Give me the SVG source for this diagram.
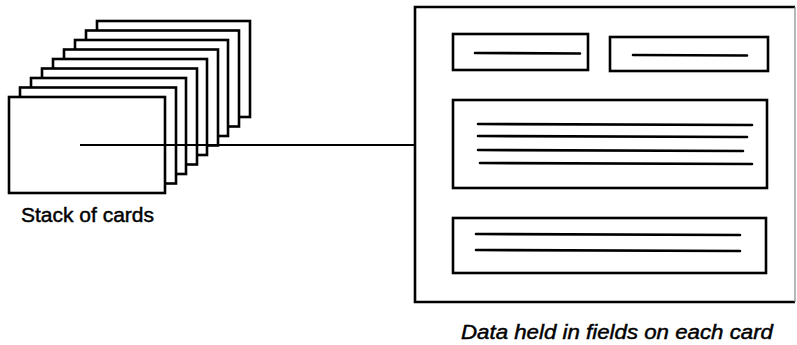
<svg xmlns="http://www.w3.org/2000/svg" width="797" height="345" viewBox="0 0 797 345">
<style>
  .card { fill: #fff; stroke: #000; stroke-width: 2.6; }
  .box { fill: none; stroke: #000; stroke-width: 2.6; }
  .field { fill: none; stroke: #000; stroke-width: 2.6; }
  .dl { stroke: #000; stroke-width: 2.6; stroke-linecap: round; }
  .conn { stroke: #000; stroke-width: 2.2; fill: none; }
  .lbl { font-family: "Liberation Sans", Arial, sans-serif; font-size: 20px; fill: #000; stroke: #000; stroke-width: 0.45; }
</style>
<rect width="797" height="345" fill="#fff"/>
<g id="stack-of-cards">
  <rect class="card" x="97" y="21" width="153" height="96"/>
  <rect class="card" x="86" y="30.5" width="153" height="96"/>
  <rect class="card" x="75" y="40" width="153" height="96"/>
  <rect class="card" x="64" y="49.5" width="154" height="96"/>
  <rect class="card" x="53" y="59" width="154" height="96"/>
  <rect class="card" x="42" y="68.5" width="155" height="96"/>
  <rect class="card" x="31" y="78" width="155" height="96"/>
  <rect class="card" x="20" y="87.5" width="156" height="96"/>
  <rect class="card" x="9" y="97" width="156" height="96"/>
  <text class="lbl" x="21" y="222" textLength="133" lengthAdjust="spacingAndGlyphs">Stack of cards</text>
</g>
<g id="record-card">
  <path class="box" d="M795,7 H415 V302 H795"/>
  <line x1="795" y1="7" x2="795" y2="302" stroke="#888" stroke-width="1.2"/>
  <g id="field-1">
    <rect class="field" x="453" y="34" width="135" height="36"/>
    <line class="dl" x1="475" y1="53" x2="580" y2="53.5"/>
  </g>
  <g id="field-2">
    <rect class="field" x="610" y="37" width="158" height="34"/>
    <line class="dl" x1="633" y1="55" x2="747" y2="55.5"/>
  </g>
  <g id="field-3">
    <rect class="field" x="453" y="100" width="314" height="88"/>
    <line class="dl" x1="478" y1="124" x2="752" y2="125"/>
    <line class="dl" x1="478" y1="136" x2="747" y2="137"/>
    <line class="dl" x1="478" y1="150" x2="743" y2="151"/>
    <line class="dl" x1="480" y1="163" x2="752" y2="164"/>
  </g>
  <g id="field-4">
    <rect class="field" x="453" y="218" width="313" height="55"/>
    <line class="dl" x1="476" y1="234" x2="740" y2="235"/>
    <line class="dl" x1="476" y1="250" x2="740" y2="251"/>
  </g>
  <text class="lbl" x="461" y="339" font-style="italic" textLength="312" lengthAdjust="spacingAndGlyphs">Data held in fields on each card</text>
</g>
<g id="connectors">
  <line class="conn" x1="80" y1="145" x2="415" y2="145"/>
</g>
</svg>
